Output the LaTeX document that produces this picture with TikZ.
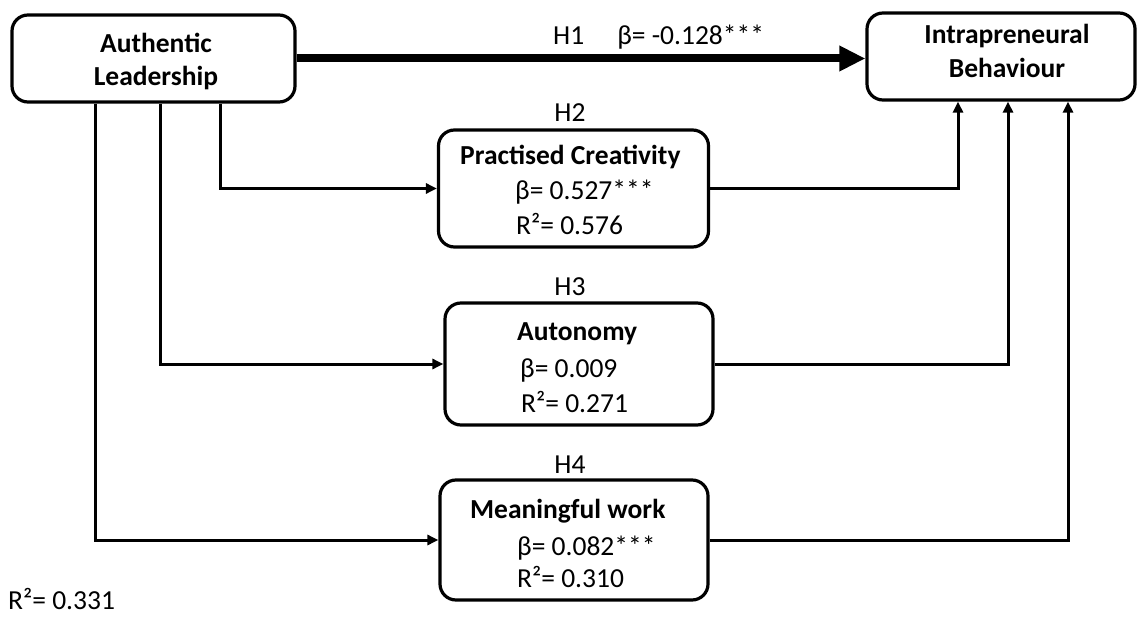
\documentclass[tikz,border=0pt]{standalone}
\usepackage{fontspec}
\setmainfont{Carlito}
\usetikzlibrary{arrows.meta}
\begin{document}
\begin{tikzpicture}[x=1pt,y=-1pt,
  box/.style={draw, line width=3.2pt, rounded corners=16pt, inner sep=0pt},
  lbl/.style={inner sep=0pt, font=\fontsize{27.5}{34}\selectfont},
  blbl/.style={inner sep=0pt, font=\fontsize{27.5}{34}\selectfont\bfseries},
  conn/.style={line width=3pt, -{Triangle[length=11pt,width=10pt]}},
  thickconn/.style={line width=8pt, -{Triangle[length=26pt,width=24pt]}}]
\useasboundingbox (0,0) rectangle (1139,617);

% boxes
\node[box, minimum width=283, minimum height=87] (AL) at (153.5,58.5) {};
\node[blbl, anchor=base] (ALt1) at (156,53) {Authentic};
\node[blbl, anchor=base] (ALt2) at (156,86) {Leadership};

\node[box, minimum width=268, minimum height=87] (IB) at (1001,56.5) {};
\node[blbl, anchor=base] (IBt1) at (1007,44) {Intrapreneural};
\node[blbl, anchor=base] (IBt2) at (1007,78) {Behaviour};

\node[box, minimum width=270, minimum height=117] (PC) at (573.5,188.5) {};
\node[blbl, anchor=base west] (PCt) at (460,165) {Practised Creativity};
\node[lbl, anchor=base west] (PCb) at (515,200) {β= 0.527***};
\node[lbl, anchor=base west] (PCr) at (516,235) {R²= 0.576};

\node[box, minimum width=268, minimum height=122] (AU) at (579,364) {};
\node[blbl, anchor=base west] (AUt) at (517,340) {Autonomy};
\node[lbl, anchor=base west] (AUb) at (520,377) {β= 0.009};
\node[lbl, anchor=base west] (AUr) at (521,412) {R²= 0.271};

\node[box, minimum width=268, minimum height=120] (MW) at (574,540) {};
\node[blbl, anchor=base west] (MWt) at (470,518) {Meaningful work};
\node[lbl, anchor=base west] (MWb) at (517,555) {β= 0.082***};
\node[lbl, anchor=base west] (MWr) at (517,587) {R²= 0.310};

% labels
\node[lbl, anchor=base west] (H1) at (553,45) {H1\hspace{33pt}β= -0.128***};
\node[lbl, anchor=base] (H2) at (570,122) {H2};
\node[lbl, anchor=base] (H3) at (570,295) {H3};
\node[lbl, anchor=base] (H4) at (570,473) {H4};
\node[lbl, anchor=base west] (R2) at (8,609) {R²= 0.331};

% connectors
\coordinate (xa) at (220,0);
\coordinate (xb) at (160,0);
\coordinate (xc) at (95,0);
\coordinate (xd) at (958,0);
\coordinate (xe) at (1008,0);
\coordinate (xf) at (1068,0);

\draw[thickconn] (AL.east) -- (AL.east -| IB.west);
\draw[conn] (AL.south -| xa) |- (PC.west);
\draw[conn] (AL.south -| xb) |- (AU.west);
\draw[conn] (AL.south -| xc) |- (MW.west);
\draw[conn] (PC.east) -| (IB.south -| xd);
\draw[conn] (AU.east) -| (IB.south -| xe);
\draw[conn] (MW.east) -| (IB.south -| xf);
\end{tikzpicture}
\end{document}
